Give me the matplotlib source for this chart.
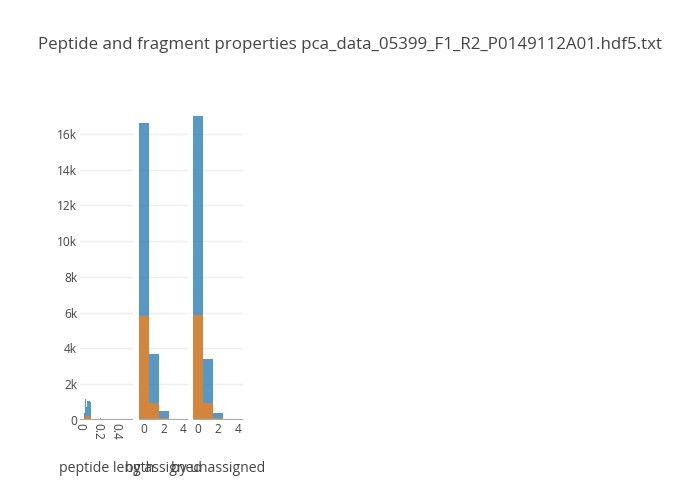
import matplotlib
matplotlib.use("Agg")
import matplotlib.pyplot as plt
from matplotlib.ticker import FuncFormatter

plt.rcParams["font.family"] = ["Open Sans", "DejaVu Sans"]

TITLE = "Peptide and fragment properties pca_data_05399_F1_R2_P0149112A01.hdf5.txt"

# peptide length histogram (fine bins)
pep_left = [0.05, 0.06, 0.07, 0.08, 0.09, 0.10, 0.11, 0.23, 0.26, 0.31, 0.34]
pep_width = 0.01
pep_blue = [380, 1170, 700, 1080, 1060, 1040, 980, 90, 30, 25, 20]
pep_orange = [90, 230, 240, 220, 230, 200, 150, 0, 0, 0, 0]

# by assigned / by unassigned (unit bins centred on integers)
count_bins = [0, 1, 2, 3, 4]
assigned_blue = [16630, 3690, 500, 70, 5]
assigned_orange = [5840, 930, 110, 10, 0]
unassigned_blue = [17000, 3430, 390, 50, 5]
unassigned_orange = [5870, 930, 110, 10, 0]

axis_titles = ["peptide length", "by assigned", "by unassigned"]
y_ticks = [0, 2000, 4000, 6000, 8000, 10000, 12000, 14000, 16000]

BLUE = "#1f77b4"
ORANGE = "#ff7f0e"
TEXT = "#444444"
W, H = 700, 500

fig = plt.figure(figsize=(7, 5), dpi=100)
fig.patch.set_facecolor("white")

# pixel boxes of the three panels: left, right
boxes = [(80, 133.3), (139.3, 188.3), (193.3, 242.8)]
top_px, bottom_px = 100, 420

def kfmt(v, _):
    return "0" if v == 0 else f"{int(v/1000)}k"

axes = []
for i, (l, r) in enumerate(boxes):
    ax = fig.add_axes([l / W, 1 - bottom_px / H, (r - l) / W, (bottom_px - top_px) / H])
    ax.set_facecolor("white")
    for s in ax.spines.values():
        s.set_visible(False)
    ax.set_ylim(0, 17900)
    ax.set_yticks(y_ticks)
    ax.grid(axis="y", color="#eeeeee", linewidth=1)
    ax.set_axisbelow(True)
    ax.tick_params(axis="both", length=0, labelsize=8.6, colors=TEXT, pad=2)
    ax.axhline(0, color="#aaaaaa", linewidth=1.6, zorder=5)
    if i == 0:
        ax.yaxis.set_major_formatter(FuncFormatter(kfmt))
    else:
        ax.tick_params(axis="y", labelleft=False)
    axes.append(ax)

ax1, ax2, ax3 = axes

ax1.bar(pep_left, pep_blue, width=pep_width, align="edge", color=BLUE, alpha=0.75, linewidth=0)
ax1.bar(pep_left, pep_orange, width=pep_width, align="edge", color=ORANGE, alpha=0.75, linewidth=0)
ax1.set_xlim(0, 0.6)
ax1.set_xticks([0, 0.2, 0.4])
ax1.set_xticklabels(["0", "0.2", "0.4"], rotation=-90)

for ax, blue, orange in [(ax2, assigned_blue, assigned_orange),
                         (ax3, unassigned_blue, unassigned_orange)]:
    ax.bar(count_bins, blue, width=1.0, color=BLUE, alpha=0.75, linewidth=0)
    ax.bar(count_bins, orange, width=1.0, color=ORANGE, alpha=0.75, linewidth=0)
    ax.set_xlim(-0.5, 4.5)
    ax.set_xticks([0, 2, 4])

# axis titles
for (l, r), t in zip(boxes, axis_titles):
    fig.text((l + r) / 2 / W, 1 - 468 / H, t, ha="center", va="center",
             fontsize=10.1, color=TEXT)

fig.text(0.5, 1 - 45 / H, TITLE, ha="center", va="center", fontsize=12.2, color=TEXT)

fig.savefig("out.png", dpi=100, facecolor="white")
